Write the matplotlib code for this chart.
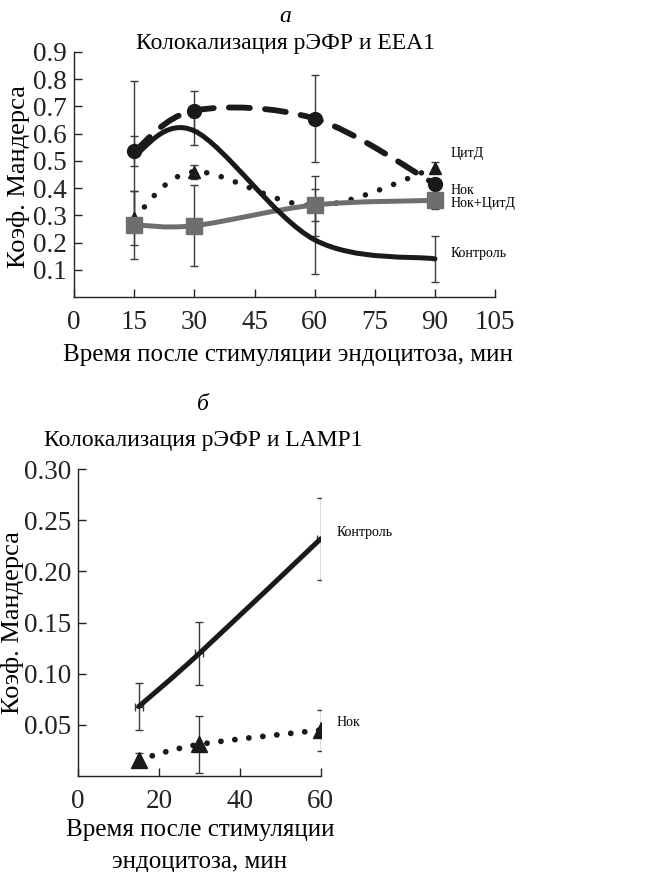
import numpy as np
import matplotlib
matplotlib.use("Agg")
import matplotlib.pyplot as plt
from matplotlib.path import Path
from matplotlib.patches import PathPatch
from matplotlib.ticker import FormatStrFormatter

plt.rcParams['font.family'] = ['Liberation Serif', 'DejaVu Serif']

# panel a: rEGFR / EEA1
time_a = [15, 30, 60, 90]
control_a = [0.52, 0.61, 0.21, 0.14]
control_a_err = [0.275, 0.05, 0.125, 0.085]
noc_a = [0.535, 0.685, 0.655, 0.415]
noc_a_err = [0.055, 0.07, 0.16, 0.02]
cytd_a = [0.29, 0.46, 0.335, 0.475]
cytd_a_err = [0.10, 0.025, 0.11, 0.02]
noccytd_a = [0.265, 0.262, 0.338, 0.355]
noccytd_a_err = [0.125, 0.148, 0.058, 0.03]

# panel b: rEGFR / LAMP1
time_b = [15, 30, 60]
control_b = [0.068, 0.12, 0.232]
control_b_err = [0.023, 0.031, 0.04]
noc_b = [0.016, 0.031, 0.045]
noc_b_err = [0.007, 0.028, 0.02]

BLACK = '#1a1a1a'
GRAY = '#6e6e6e'
ECOL = '#3a3a3a'


def smooth(x, y):
    # excel-like smoothed line (bezier through the points)
    pts = np.column_stack([x, y]).astype(float)
    n = len(pts)
    verts = [pts[0]]
    codes = [Path.MOVETO]
    for i in range(n - 1):
        p0 = pts[max(i - 1, 0)]
        p1 = pts[i]
        p2 = pts[i + 1]
        p3 = pts[min(i + 2, n - 1)]
        verts += [p1 + (p2 - p0) / 6, p2 - (p3 - p1) / 6, p2]
        codes += [Path.CURVE4] * 3
    return Path(verts, codes)


def add_curve(ax, x, y, color, lw, ls='-', z=3):
    patch = PathPatch(smooth(x, y), fill=False, edgecolor=color, lw=lw,
                      linestyle=ls, capstyle='round', zorder=z)
    ax.add_patch(patch)


def style_axes(ax):
    for s in ['top', 'right']:
        ax.spines[s].set_visible(False)
    for s in ['left', 'bottom']:
        ax.spines[s].set_linewidth(1.0)
        ax.spines[s].set_color('#222222')
    ax.tick_params(direction='in', length=6, width=1, labelsize=19.5, colors='#222222')
    ax.tick_params(axis='x', pad=9)
    ax.tick_params(axis='y', pad=5)


fig = plt.figure(figsize=(6.56, 8.72), dpi=100)

# ---- panel a
ax1 = fig.add_axes([0.113, 0.6594, 0.6417, 0.281])
style_axes(ax1)
ax1.set_xlim(0, 105)
ax1.set_ylim(0, 0.9)
ax1.set_xticks(np.arange(0, 106, 15))
ax1.set_yticks(np.arange(0.1, 0.91, 0.1))
ax1.yaxis.set_major_formatter(FormatStrFormatter('%.1f'))

for vals, err in [(control_a, control_a_err), (noc_a, noc_a_err),
                  (cytd_a, cytd_a_err), (noccytd_a, noccytd_a_err)]:
    ax1.errorbar(time_a, vals, yerr=err, fmt='none', ecolor=ECOL,
                 elinewidth=1, capsize=3, capthick=1, zorder=1)

add_curve(ax1, time_a, noc_a, BLACK, 4.2, (0, (3.6, 2.6)), z=2)
add_curve(ax1, time_a, cytd_a, BLACK, 4.0, (0, (0.01, 2.7)), z=2)
add_curve(ax1, time_a, noccytd_a, GRAY, 3.6, '-', z=3)
add_curve(ax1, time_a, control_a, BLACK, 3.6, '-', z=4)

ax1.plot(time_a, noc_a, ls='none', marker='o', ms=10, color=BLACK, zorder=5)
ax1.plot(time_a, cytd_a, ls='none', marker='^', ms=9, color=BLACK, zorder=5)
ax1.plot(time_a, noccytd_a, ls='none', marker='s', ms=11, color=GRAY, zorder=5)

lab_kw = dict(fontsize=10, ha='left', va='center', clip_on=False)
ax1.text(93.8, 0.528, 'ЦитД', **lab_kw)
ax1.text(93.8, 0.393, 'Нок', **lab_kw)
ax1.text(93.8, 0.345, 'Нок+ЦитД', **lab_kw)
ax1.text(93.8, 0.161, 'Контроль', **lab_kw)

fig.text(285 / 656, 1 - 17 / 872, 'а', fontsize=17, style='italic', ha='center', va='center')
fig.text(285 / 656, 1 - 43 / 872, 'Колокализация рЭФР и EEA1', fontsize=17, ha='center', va='center')
fig.text(19 / 656, 1 - 177 / 872, 'Коэф. Мандерса', fontsize=19, rotation=90, ha='center', va='center')
fig.text(288 / 656, 1 - 355 / 872, 'Время после стимуляции эндоцитоза, мин', fontsize=18,
         ha='center', va='center')

# ---- panel b
ax2 = fig.add_axes([0.119, 0.110, 0.370, 0.352])
style_axes(ax2)
ax2.set_xlim(0, 60)
ax2.set_ylim(0, 0.30)
ax2.set_xticks([0, 20, 40, 60])
ax2.set_yticks(np.arange(0.05, 0.301, 0.05))
ax2.yaxis.set_major_formatter(FormatStrFormatter('%.2f'))

ax2.errorbar(time_b, control_b, yerr=control_b_err, xerr=1, fmt='none', ecolor=ECOL,
             elinewidth=1, capsize=3, capthick=1, zorder=1)
ax2.errorbar(time_b, noc_b, yerr=noc_b_err, fmt='none', ecolor=ECOL,
             elinewidth=1, capsize=3, capthick=1, zorder=1)

add_curve(ax2, time_b, control_b, BLACK, 3.6, '-', z=3)
add_curve(ax2, time_b, noc_b, BLACK, 4.2, (0, (0.01, 2.4)), z=2)
ax2.plot(time_b, noc_b, ls='none', marker='^', ms=11, color=BLACK, zorder=5)

ax2.text(64, 0.238, 'Контроль', **lab_kw)
ax2.text(64, 0.052, 'Нок', **lab_kw)

fig.text(203 / 656, 1 - 405 / 872, 'б', fontsize=17, style='italic', ha='center', va='center')
fig.text(203 / 656, 1 - 440 / 872, 'Колокализация рЭФР и LAMP1', fontsize=17, ha='center', va='center')
fig.text(13 / 656, 1 - 623 / 872, 'Коэф. Мандерса', fontsize=19, rotation=90, ha='center', va='center')
fig.text(200 / 656, 1 - 830 / 872, 'Время после стимуляции', fontsize=18, ha='center', va='center')
fig.text(200 / 656, 1 - 862 / 872, 'эндоцитоза, мин', fontsize=18, ha='center', va='center')

fig.savefig('out.png', dpi=100)
